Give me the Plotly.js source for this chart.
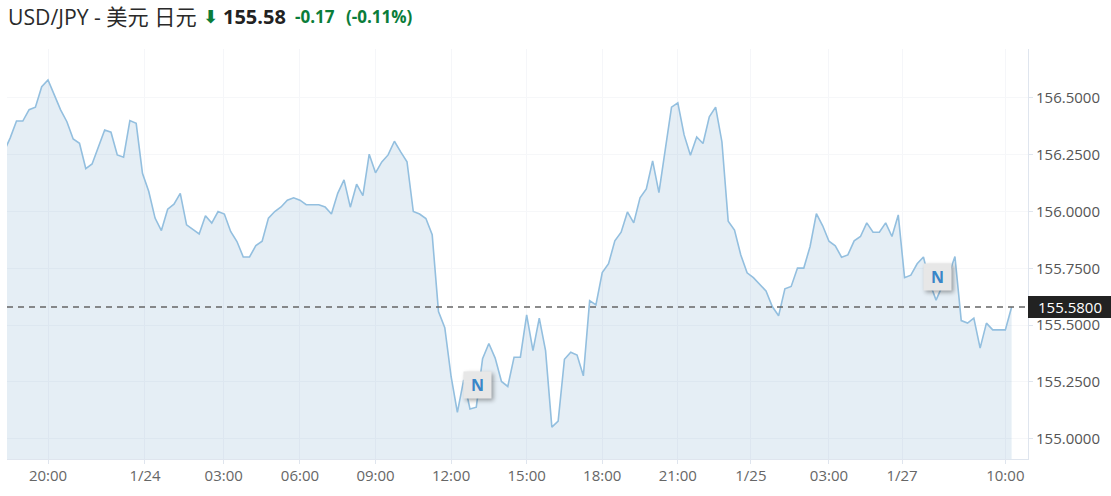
<!DOCTYPE html>
<html><head><meta charset="utf-8">
<script src="https://cdn.plot.ly/plotly-3.0.1.min.js"></script>
<style>
html,body{margin:0;padding:0;background:#fff;overflow:hidden}
.annotation[data-index="5"] rect,.annotation[data-index="6"] rect{filter:drop-shadow(2px 2px 2px rgba(0,0,0,.35))}
</style></head><body><div id="chart" style="width:1111px;height:496px"></div>
<script>
const prices=[156.262,156.324,156.398,156.398,156.448,156.459,156.549,156.579,156.513,156.447,
156.395,156.319,156.300,156.189,156.209,156.285,156.359,156.349,156.249,156.239,
156.400,156.388,156.168,156.088,155.971,155.916,156.010,156.032,156.080,155.941,
155.922,155.901,155.981,155.949,156.000,155.989,155.912,155.868,155.800,155.800,
155.850,155.869,155.971,156.000,156.020,156.050,156.060,156.050,156.030,156.030,
156.030,156.020,155.989,156.080,156.139,156.019,156.120,156.070,156.252,156.170,
156.218,156.249,156.309,156.262,156.219,156.000,155.989,155.969,155.898,155.560,
155.489,155.274,155.116,155.259,155.131,155.139,155.352,155.419,155.355,155.252,
155.230,155.359,155.359,155.545,155.388,155.531,155.388,155.051,155.078,155.350,
155.381,155.368,155.277,155.608,155.589,155.731,155.770,155.871,155.909,155.998,
155.950,156.060,156.099,156.223,156.083,156.271,156.459,156.478,156.337,156.248,
156.328,156.299,156.417,156.459,156.307,155.957,155.918,155.809,155.730,155.709,
155.680,155.650,155.582,155.541,155.660,155.670,155.751,155.751,155.846,155.991,
155.937,155.869,155.849,155.799,155.809,155.871,155.890,155.950,155.909,155.909,
155.950,155.890,155.985,155.709,155.720,155.770,155.800,155.686,155.610,155.673,
155.721,155.802,155.520,155.509,155.531,155.399,155.509,155.479,155.479,155.479,155.580];
const index=prices.map((_,i)=>i);
const timeTickPos=[7,22.4,34.9,47,59,71,83,95,107,118.6,131,142.6,159];
const timeTickText=['20:00','1/24','03:00','06:00','09:00','12:00','15:00','18:00','21:00','1/25','03:00','1/27','10:00'];
const priceTicks=[155,155.25,155.5,155.75,156,156.25,156.5];
const priceTickText=['155.0000','155.2500','155.5000','155.7500','156.0000','156.2500','156.5000'];
const lastPrice=155.58, lastLabel='155.5800';
const newsX=[75.17,148.2], newsY=[155.235,155.71];

const W=1111,H=496,mL=7,mR=83,mT=49,mB=37;
const px=p=>(p-mL)/(W-mL-mR), py=p=>(H-mB-p)/(H-mT-mB);
const F='"Open Sans",sans-serif', CJK='"Open Sans","Noto Sans CJK SC",sans-serif';
const head=(text,x,size,color,family)=>({xref:'paper',yref:'paper',x:px(x),y:py(17),xanchor:'left',yanchor:'middle',
  text,showarrow:false,font:{size,color,family:family||F},borderpad:0});
const news=(i)=>({x:newsX[i],y:newsY[i],xref:'x',yref:'y',text:'<b>N</b>',showarrow:false,
  bgcolor:'#e7e7e7',width:25,height:24,align:'center',valign:'middle',font:{size:16,color:'#3a86c8',family:F}});

Plotly.newPlot('chart',[{
  x:index,y:prices,mode:'lines',type:'scatter',fill:'tozeroy',fillcolor:'rgba(125,170,205,0.2)',
  line:{color:'#93bfdf',width:1.6,shape:'linear'},hoverinfo:'skip'
}],{
  width:W,height:H,margin:{l:mL,r:mR,t:mT,b:mB},paper_bgcolor:'#fff',plot_bgcolor:'#fff',showlegend:false,
  xaxis:{range:[0.49,162.6],tickmode:'array',tickvals:timeTickPos,ticktext:timeTickText,showgrid:true,gridcolor:'#f5f6f9',gridwidth:1,
    zeroline:false,showline:true,linecolor:'#dfe5ee',ticks:'outside',ticklen:4,tickcolor:'#dfe5ee',ticklabelstandoff:-1,
    tickfont:{family:F,size:15,color:'#666'},tickangle:0},
  yaxis:{range:[154.911,156.715],side:'right',tickmode:'array',tickvals:priceTicks,ticktext:priceTickText,showgrid:true,gridcolor:'#f6f7f9',gridwidth:1,
    zeroline:false,showline:true,linecolor:'#dfe5ee',ticks:'outside',ticklen:4,tickcolor:'#dfe5ee',
    tickfont:{family:F,size:15,color:'#555'}},
  shapes:[
    {type:'line',xref:'paper',yref:'y',x0:0,x1:1,y0:lastPrice,y1:lastPrice,line:{color:'#666',width:1.4,dash:'6px,5px'}},
    {type:'rect',xref:'paper',yref:'y',ysizemode:'pixel',yanchor:lastPrice,x0:1,x1:1.09,y0:-11,y1:11,fillcolor:'#222',line:{width:0},layer:'above'}
  ],
  annotations:[
    head('USD/JPY - 美元 日元',7,21.2,'#2a2a2a',CJK),
    head('<b>⬇</b>',202,18,'#0a7d3a','"DejaVu Sans"'),
    head('<b>155.58</b>',222,20,'#222'),
    head('<b>-0.17</b>',294,17,'#0a7d3a'),
    head('<b>(-0.11%)</b>',345,17,'#0a7d3a'),
    news(0),news(1),
    {xref:'paper',yref:'y',x:px(1037),y:lastPrice,xanchor:'left',yanchor:'middle',text:lastLabel,showarrow:false,borderpad:0,
     font:{family:F,size:15,color:'#fff'}}
  ]
},{displayModeBar:false,staticPlot:true});
</script></body></html>
